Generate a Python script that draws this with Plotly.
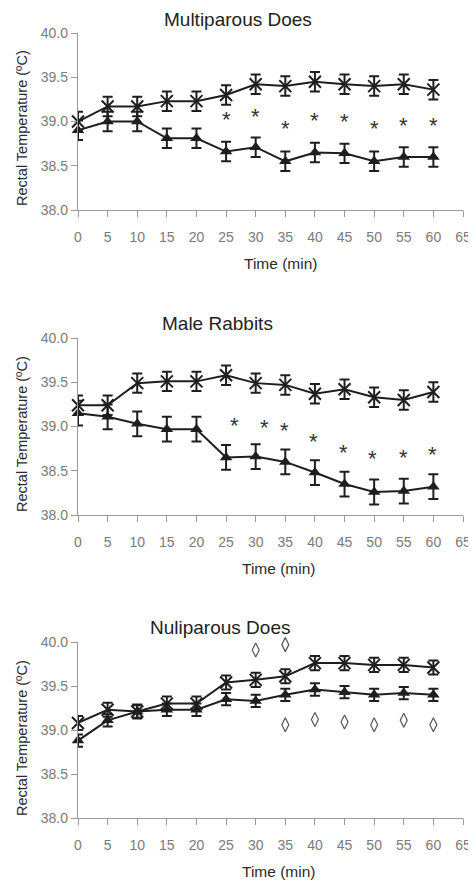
import plotly.graph_objects as go
from plotly.subplots import make_subplots

# page has an 8px body margin: figure is placed at (8, 8)
OX, OY = 8, 8
W, H = 476 - OX, 882 - OY

time = [0, 5, 10, 15, 20, 25, 30, 35, 40, 45, 50, 55, 60]

# Panel 1: Multiparous Does
multi_cross = [39.0, 39.17, 39.17, 39.23, 39.23, 39.3, 39.42, 39.4, 39.45, 39.42, 39.4, 39.42, 39.36]
multi_cross_err = [0.11] * 13
multi_tri = [38.9, 39.0, 39.0, 38.81, 38.81, 38.66, 38.71, 38.55, 38.65, 38.64, 38.55, 38.6, 38.6]
multi_tri_err = [0.11] * 13
multi_star_x = [25, 30, 35, 40, 45, 50, 55, 60]
multi_star_y = [39.06, 39.09, 38.95, 39.05, 39.03, 38.95, 38.99, 38.99]

# Panel 2: Male Rabbits
male_cross = [39.24, 39.24, 39.49, 39.51, 39.51, 39.58, 39.49, 39.47, 39.37, 39.42, 39.33, 39.3, 39.39]
male_cross_err = [0.11] * 13
male_tri = [39.15, 39.11, 39.03, 38.97, 38.97, 38.65, 38.66, 38.6, 38.48, 38.35, 38.26, 38.27, 38.32]
male_tri_err = [0.14] * 13
male_star_x = [26.4, 31.5, 34.8, 39.8, 44.8, 49.7, 54.9, 59.9]
male_star_y = [39.04, 39.02, 38.99, 38.87, 38.74, 38.67, 38.68, 38.72]

# Panel 3: Nuliparous Does
nuli_cross = [39.08, 39.23, 39.21, 39.3, 39.3, 39.54, 39.57, 39.61, 39.76, 39.76, 39.74, 39.74, 39.71]
nuli_cross_err = [0.08] * 13
nuli_tri = [38.88, 39.11, 39.21, 39.23, 39.23, 39.35, 39.33, 39.4, 39.46, 39.43, 39.4, 39.42, 39.4]
nuli_tri_err = [0.07] * 13
nuli_dia_up_x = [30, 35, 40, 45, 50, 55, 60]
nuli_dia_up_y = [39.91, 39.97, 40.11, 40.11, 40.08, 40.09, 40.06]
nuli_dia_lo_x = [35, 40, 45, 50, 55, 60]
nuli_dia_lo_y = [39.06, 39.12, 39.09, 39.06, 39.11, 39.06]

titles = ["Multiparous Does", "Male Rabbits", "Nuliparous Does"]
y_ticks = [38.0, 38.5, 39.0, 39.5, 40.0]
y_tick_text = ["38.0", "38.5", "39.0", "39.5", "40.0"]
x_ticks = [0, 5, 10, 15, 20, 25, 30, 35, 40, 45, 50, 55, 60, 65]
x_label = "Time (min)"
y_label = "Rectal Temperature (ºC)"

INK = "#1e1e1e"
AXIS = "#9a9a9a"
SANS = "Liberation Sans, Arial, sans-serif"
TICKFONT = dict(family=SANS, size=14, color="#7a7a7a")

fig = make_subplots(rows=3, cols=1)

panels = [
    (multi_cross, multi_cross_err, multi_tri, multi_tri_err),
    (male_cross, male_cross_err, male_tri, male_tri_err),
    (nuli_cross, nuli_cross_err, nuli_tri, nuli_tri_err),
]

for i, (cy, ce, ty, te) in enumerate(panels, start=1):
    fig.add_trace(go.Scatter(
        x=time, y=ty, mode="lines+markers",
        line=dict(color=INK, width=2),
        marker=dict(symbol="triangle-up", size=11, color=INK),
        error_y=dict(type="data", array=te, color=INK, thickness=2, width=5),
        showlegend=False, cliponaxis=False), row=i, col=1)
    fig.add_trace(go.Scatter(
        x=time, y=cy, mode="lines+markers",
        line=dict(color=INK, width=2),
        marker=dict(symbol="x-thin-open", size=12, color=INK, line=dict(color=INK, width=2)),
        error_y=dict(type="data", array=ce, color=INK, thickness=2, width=5),
        showlegend=False, cliponaxis=False), row=i, col=1)

# diamonds (panel 3)
for dx, dy in [(nuli_dia_up_x, nuli_dia_up_y), (nuli_dia_lo_x, nuli_dia_lo_y)]:
    fig.add_trace(go.Scatter(
        x=dx, y=dy, mode="markers",
        marker=dict(symbol="diamond-tall-open", size=10, color="#555555",
                    line=dict(color="#555555", width=1.2)),
        showlegend=False, cliponaxis=False), row=3, col=1)

# pixel layout (reference-window pixels -> paper fractions)
def fx(px):
    return (px - OX) / W

def fy(py):
    return 1 - (py - OY) / H

x_dom = [fx(78), fx(463)]
y_px = [(33, 210), (338, 515), (642, 818)]

for i, (top, bot) in enumerate(y_px, start=1):
    xa = "xaxis" if i == 1 else f"xaxis{i}"
    ya = "yaxis" if i == 1 else f"yaxis{i}"
    fig.layout[xa].update(
        domain=x_dom, range=[0, 65], tickvals=x_ticks, ticktext=[str(v) for v in x_ticks],
        showline=True, linecolor=AXIS, linewidth=1.3, ticks="outside", ticklen=6,
        tickcolor=AXIS, tickwidth=1.3, showgrid=False, zeroline=False, automargin=False,
        tickfont=TICKFONT, ticklabelstandoff=8)
    fig.layout[ya].update(
        domain=[fy(bot), fy(top)], range=[38.0, 40.0], tickvals=y_ticks, ticktext=y_tick_text,
        showline=True, linecolor=AXIS, linewidth=1.3, ticks="outside", ticklen=6,
        tickcolor=AXIS, tickwidth=1.3, showgrid=False, zeroline=False, automargin=False,
        tickfont=TICKFONT)

annotations = []

# significance asterisks as data-referenced annotations
for sx, sy, r in [(multi_star_x, multi_star_y, 1), (male_star_x, male_star_y, 2)]:
    xr = "x" if r == 1 else f"x{r}"
    yr = "y" if r == 1 else f"y{r}"
    for a, b in zip(sx, sy):
        annotations.append(dict(
            text="*", x=a, y=b, xref=xr, yref=yr, showarrow=False,
            xanchor="center", yanchor="middle", yshift=-3,
            font=dict(family=SANS, size=22, color="#333333")))

title_pos = [(238, 19), (217, 323), (220, 627)]
xlab_pos = [(280, 263), (278, 568), (278, 871)]
ylab_pos = [(22, 128), (22, 434), (22, 738)]
for t, (tx, ty), (lx, ly), (yx, yy) in zip(titles, title_pos, xlab_pos, ylab_pos):
    annotations.append(dict(
        text=t, x=fx(tx), y=fy(ty), xref="paper", yref="paper",
        xanchor="center", yanchor="middle", showarrow=False,
        font=dict(family=SANS, size=19, color="#222222")))
    annotations.append(dict(
        text=x_label, x=fx(lx), y=fy(ly), xref="paper", yref="paper",
        xanchor="center", yanchor="middle", showarrow=False,
        font=dict(family=SANS, size=15.5, color="#2a2a2a")))
    annotations.append(dict(
        text=y_label, x=fx(yx), y=fy(yy), xref="paper", yref="paper",
        xanchor="center", yanchor="middle", showarrow=False, textangle=-90,
        font=dict(family=SANS, size=14.5, color="#2a2a2a")))

fig.update_layout(
    width=W, height=H, margin=dict(l=0, r=0, t=0, b=0, autoexpand=False),
    paper_bgcolor="white", plot_bgcolor="white",
    annotations=annotations, showlegend=False)

fig.write_html("out.html")
